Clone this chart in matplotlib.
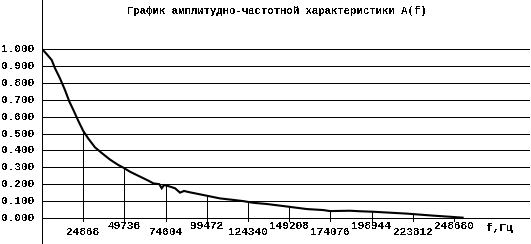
import matplotlib
matplotlib.use("Agg")
import matplotlib.pyplot as plt
import numpy as np

# amplitude-frequency response A(f)
freq = [0, 2830, 5850, 7850, 10860, 13880, 16500, 18900, 21900, 24900,
        27950, 32000, 36000, 41000, 46000, 49100, 53100, 59150, 64200,
        67200, 70800, 72250, 73640, 76250, 80300, 83300, 85700, 89300,
        95400, 100400, 107400, 115500, 121500, 127500, 135600, 148700,
        159800, 169800, 173800, 185900, 191900, 200000, 220100, 236200,
        248300, 253900]
ampl = [1.0, 0.97, 0.935, 0.886, 0.826, 0.757, 0.689, 0.64, 0.575, 0.515,
        0.47, 0.418, 0.385, 0.346, 0.314, 0.298, 0.274, 0.245, 0.221,
        0.205, 0.20, 0.176, 0.195, 0.189, 0.176, 0.15, 0.16, 0.152,
        0.14, 0.13, 0.116, 0.107, 0.10, 0.09, 0.083, 0.067,
        0.053, 0.047, 0.041, 0.043, 0.040, 0.037, 0.026, 0.014,
        0.006, 0.002]

tick_freq = [24868, 49736, 74604, 99472, 124340, 149208, 174076, 198944, 223812, 248680]
tick_labels = ["24868", "49736", "74604", "99472", "124340", "149208",
               "174076", "198944", "223812", "248680"]
ytick_vals = [0.0, 0.1, 0.2, 0.3, 0.4, 0.5, 0.6, 0.7, 0.8, 0.9, 1.0]

title = "График амплитудно-частотной характеристики A(f)"
font = "Liberation Mono"
px = 0.72  # one pixel in points

plt.rcParams["text.antialiased"] = False

fig = plt.figure(figsize=(5.31, 2.44), dpi=100)
ax = fig.add_axes([42 / 531, 0, (530 - 42) / 531, 1])
ax.set_xlim(0, 294550)
ax.set_ylim(-0.1538, 1.29)
ax.axis("off")

# y axis and horizontal grid
ax.axvline(0, color="black", lw=px, antialiased=False)
for v in ytick_vals:
    ax.hlines(v, -1000, 294550, color="black", lw=px, antialiased=False)
    ax.text(-4300, v, f"{v:.3f}", ha="right", va="center", fontsize=8,
            family=font, weight="bold", clip_on=False)

# vertical ticks up to the curve
for i, (f, lab) in enumerate(zip(tick_freq, tick_labels)):
    top = float(np.interp(f, freq, ampl))
    ax.vlines(f, -0.02, top, color="black", lw=px, antialiased=False)
    y = -0.045 if i % 2 else -0.085
    ax.text(f, y, lab, ha="center", va="center", fontsize=8,
            family=font, weight="bold")

ax.plot(freq, ampl, color="black", lw=1.5, solid_joinstyle="miter")

ax.text(276000, -0.06, "f,Гц", ha="center", va="center", fontsize=8,
        family=font, weight="bold")
fig.text(277 / 531, 1 - 11 / 244, title, ha="center", va="center",
         fontsize=7.7, family=font, weight="bold")

fig.savefig("out.png", dpi=100)
